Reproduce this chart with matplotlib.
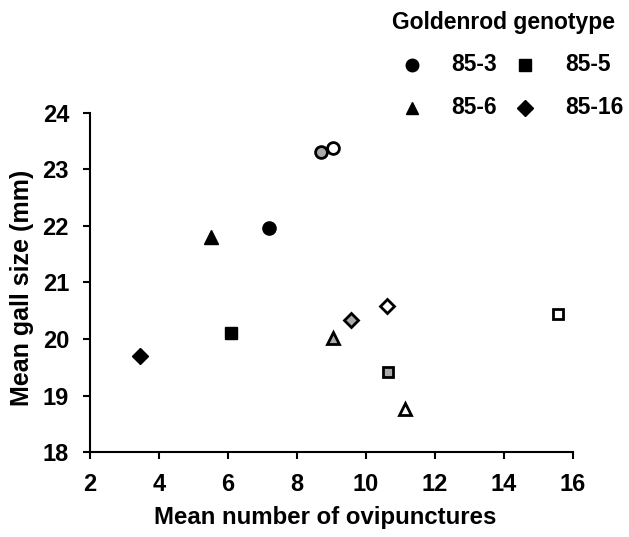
import matplotlib
matplotlib.use("Agg")
import matplotlib.pyplot as plt
from matplotlib.lines import Line2D

plt.rcParams['font.family'] = ['Liberation Sans', 'DejaVu Sans']
plt.rcParams['font.weight'] = 'bold'

# Data
genotypes = ["85-3", "85-5", "85-6", "85-16"]
markers = {"85-3": "o", "85-5": "s", "85-6": "^", "85-16": "D"}
# three treatments per genotype: black (filled), grey, open
black_x = [7.2, 6.1, 5.5, 3.45]
black_y = [21.97, 20.11, 21.80, 19.70]
grey_x = [8.7, 10.65, 9.05, 9.58]
grey_y = [23.30, 19.42, 20.02, 20.33]
open_x = [9.04, 15.57, 11.12, 10.62]
open_y = [23.37, 20.45, 18.76, 20.58]

sizes = {"o": 9.5, "s": 8.5, "^": 9.5, "D": 8.5}

fig = plt.figure(figsize=(6.29, 5.37), dpi=100)
ax = fig.add_axes([0.143, 0.158, 0.768, 0.632])

for i, g in enumerate(genotypes):
    m = markers[g]
    ms = sizes[m]
    ax.plot(black_x[i], black_y[i], marker=m, ms=ms, color='black', mec='black', ls='none')
    ax.plot(grey_x[i], grey_y[i], marker=m, ms=ms - 1.0, color='#aaaaaa', mec='black', mew=2.0, ls='none')
    ax.plot(open_x[i], open_y[i], marker=m, ms=ms - 1.0, color='white', mec='black', mew=2.0, ls='none')

ax.set_xlim(2, 16)
ax.set_ylim(18, 24)
ax.set_xticks(range(2, 17, 2))
ax.set_yticks(range(18, 25))
for s in ['top', 'right']:
    ax.spines[s].set_visible(False)
for s in ['left', 'bottom']:
    ax.spines[s].set_linewidth(1.5)
ax.tick_params(direction='out', length=5, width=1.5, labelsize=17, pad=10)
for lab in ax.get_xticklabels() + ax.get_yticklabels():
    lab.set_fontweight('bold')
ax.set_xlabel("Mean number of ovipunctures", fontsize=17.3, fontweight='bold', va='center')
ax.xaxis.set_label_coords(0.487, -0.192)
ax.set_ylabel("Mean gall size (mm)", fontsize=18, fontweight='bold', va='center')
ax.yaxis.set_label_coords(-0.141, 0.484)

# Legend (manual layout)
fig.text(0.800, 0.959, "Goldenrod genotype", ha='center', va='center', fontsize=16.5, fontweight='bold')
leg_pos = [(0.655, 0.879), (0.835, 0.879), (0.655, 0.799), (0.835, 0.799)]
for g, (lx, ly) in zip(genotypes, leg_pos):
    m = markers[g]
    fig.add_artist(Line2D([lx], [ly], transform=fig.transFigure, marker=m,
                          ms=sizes[m] - 0.5, color='black', ls='none'))
    fig.text(lx + 0.063, ly, g, ha='left', va='center', fontsize=16.5, fontweight='bold')

fig.savefig("out.png", dpi=100)
